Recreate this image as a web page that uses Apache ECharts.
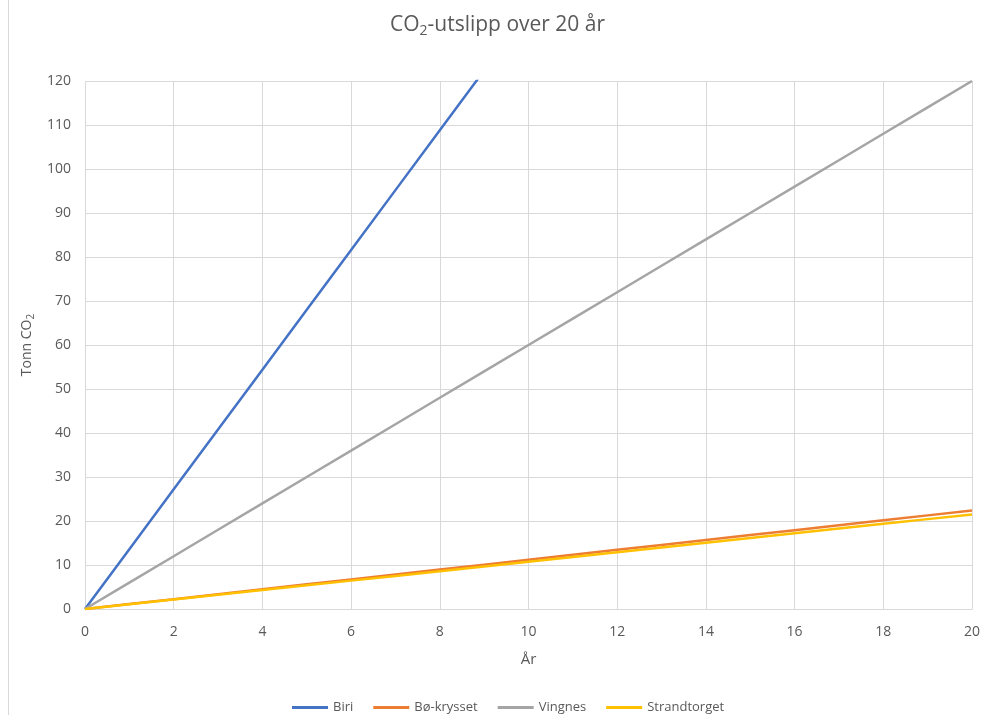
<!DOCTYPE html>
<html>
<head>
<meta charset="utf-8">
<script src="https://cdn.jsdelivr.net/npm/echarts@6/dist/echarts.min.js"></script>
<style>
  html, body { margin: 0; padding: 0; background: #fff; }
  #chart { width: 995px; height: 715px; }
</style>
</head>
<body>
<div id="chart"></div>
<script>
// Years on the horizontal axis
const years = [0, 1, 2, 3, 4, 5, 6, 7, 8, 9, 10, 11, 12, 13, 14, 15, 16, 17, 18, 19, 20];

// Accumulated emissions (tonn CO2) per site
const biri = [0, 13.6, 27.2, 40.8, 54.4, 68.0, 81.6, 95.2, 108.8, 122.4, 136.0, 149.6, 163.2, 176.8, 190.4, 204.0, 217.6, 231.2, 244.8, 258.4, 272.0];
const boKrysset = [0, 1.12, 2.24, 3.36, 4.48, 5.6, 6.72, 7.84, 8.96, 10.08, 11.2, 12.32, 13.44, 14.56, 15.68, 16.8, 17.92, 19.04, 20.16, 21.28, 22.4];
const vingnes = [0, 6, 12, 18, 24, 30, 36, 42, 48, 54, 60, 66, 72, 78, 84, 90, 96, 102, 108, 114, 120];
const strandtorget = [0, 1.075, 2.15, 3.225, 4.3, 5.375, 6.45, 7.525, 8.6, 9.675, 10.75, 11.825, 12.9, 13.975, 15.05, 16.125, 17.2, 18.275, 19.35, 20.425, 21.5];

const seriesNames = ['Biri', 'Bø-krysset', 'Vingnes', 'Strandtorget'];
const seriesData = [biri, boKrysset, vingnes, strandtorget];
const seriesColors = ['#4472C4', '#ED7D31', '#A5A5A5', '#FFC000'];

const FONT = '"Open Sans", "Noto Sans", sans-serif';
const TEXT = '#595959';

const chart = echarts.init(document.getElementById('chart'), null, { renderer: 'canvas' });

chart.setOption({
  animation: false,
  backgroundColor: '#ffffff',
  textStyle: { fontFamily: FONT },
  title: {
    text: '{n|CO}{s|2}{n|-utslipp over 20 år}',
    left: 'center',
    top: 8,
    textStyle: {
      fontWeight: 'normal',
      rich: {
        n: { fontFamily: FONT, fontSize: 21, fontWeight: 'normal', color: TEXT },
        s: { fontFamily: FONT, fontSize: 14, fontWeight: 'normal', color: TEXT, verticalAlign: 'bottom', padding: [11, 0, 0, 0] }
      }
    }
  },
  graphic: [{
    type: 'line',
    shape: { x1: 8.5, y1: 0, x2: 8.5, y2: 715 },
    style: { stroke: '#d9d9d9', lineWidth: 1 },
    silent: true
  }],
  legend: {
    bottom: -4,
    left: 287,
    itemWidth: 36,
    itemHeight: 3,
    itemGap: 20,
    icon: 'rect',
    textStyle: { fontFamily: FONT, fontSize: 13, color: TEXT },
    data: seriesNames
  },
  grid: { left: 85, right: 23, top: 81, bottom: 106, containLabel: false },
  xAxis: {
    type: 'value',
    min: 0,
    max: 20,
    interval: 2,
    name: 'År',
    nameLocation: 'middle',
    nameGap: 43,
    nameTextStyle: { fontFamily: FONT, fontSize: 15, color: TEXT },
    axisLine: { show: true, lineStyle: { color: '#d9d9d9', width: 1 } },
    axisTick: { show: false },
    axisLabel: { fontFamily: FONT, fontSize: 14, color: TEXT, margin: 16 },
    splitLine: { show: true, lineStyle: { color: '#d9d9d9', width: 1 } }
  },
  yAxis: {
    type: 'value',
    min: 0,
    max: 120,
    interval: 10,
    name: '{n|Tonn CO}{s|2}',
    nameLocation: 'middle',
    nameGap: 38,
    nameRotate: 90,
    nameTextStyle: {
      rich: {
        n: { fontFamily: FONT, fontSize: 14, color: TEXT },
        s: { fontFamily: FONT, fontSize: 10, color: TEXT, verticalAlign: 'bottom', padding: [8, 0, 0, 0] }
      }
    },
    axisLine: { show: false },
    axisTick: { show: false },
    axisLabel: { fontFamily: FONT, fontSize: 14, color: TEXT, margin: 14 },
    splitLine: { show: true, lineStyle: { color: '#d9d9d9', width: 1 } }
  },
  series: seriesNames.map((name, i) => ({
    name: name,
    type: 'line',
    data: years.map((y, k) => [y, seriesData[i][k]]),
    showSymbol: false,
    symbol: 'none',
    clip: true,
    color: seriesColors[i],
    lineStyle: { color: seriesColors[i], width: 2.5 }
  }))
});
</script>
</body>
</html>
